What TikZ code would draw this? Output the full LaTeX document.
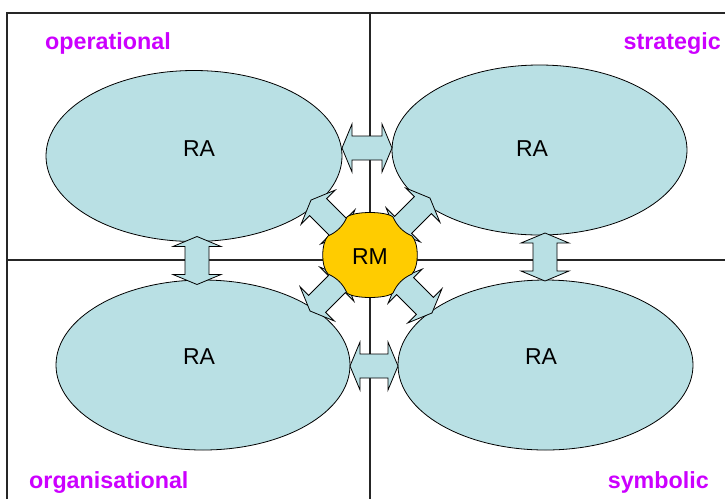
\documentclass[tikz,border=0pt]{standalone}
\usepackage{fontspec}
\setmainfont{Liberation Sans}
\usetikzlibrary{shapes.geometric}
\definecolor{rafill}{RGB}{185,224,228}
\definecolor{rmfill}{RGB}{255,204,0}
\definecolor{lblcol}{RGB}{204,0,255}
\tikzset{
  framestyle/.style={line width=1.3pt, draw=black!85},
  raell/.style={ellipse, draw=black, line width=0.8pt, fill=rafill, inner sep=0pt},
  blockarrow/.style={draw=black, line width=0.8pt, fill=rafill, line join=miter},
  lbltext/.style={text=lblcol, font=\fontsize{23.3}{27}\selectfont\bfseries, inner sep=0pt},
  ratext/.style={font=\fontsize{23}{27}\selectfont, inner sep=0pt},
  dbl/.pic={\path[blockarrow] (-#1,0) -- (-#1+10,-24) -- (-#1+10,-12) -- (#1-10,-12) -- (#1-10,-24) -- (#1,0) -- (#1-10,24) -- (#1-10,12) -- (-#1+10,12) -- (-#1+10,24) -- cycle;}
}
\begin{document}
\begin{tikzpicture}[x=1pt,y=-1pt]
\useasboundingbox (0,0) rectangle (725,499);
% frame
\draw[framestyle] (7,499) -- (7,13) -- (725,13);
\draw[framestyle] (370,13) -- (370,499);
\draw[framestyle] (7,260) -- (725,260);
% labels
\node[lbltext, anchor=base west] (op) at (45,49) {operational};
\node[lbltext, anchor=base east] (st) at (721,49) {strategic};
\node[lbltext, anchor=base west] (org) at (29,488) {organisational};
\node[lbltext, anchor=base east] (sym) at (709,488) {symbolic};
% ellipses
\node[raell, minimum width=296pt, minimum height=171pt] (tl) at (194,156) {};
\node[raell, minimum width=295pt, minimum height=170pt] (tr) at (539.5,150) {};
\node[raell, minimum width=294pt, minimum height=170pt] (bl) at (203,365) {};
\node[raell, minimum width=295pt, minimum height=170pt] (br) at (545.5,365) {};
\node[ratext] (tlt) at (199,149) {RA};
\node[ratext] (trt) at (532,149) {RA};
\node[ratext] (blt) at (199,357) {RA};
\node[ratext] (brt) at (541,357) {RA};
% block arrows
\pic at (367,148) {dbl=25};
\pic at (374,366) {dbl=24};
\pic[rotate=90] at (197,260.5) {dbl=24};
\pic[rotate=90] at (545,257) {dbl=24};
\pic[rotate=-45] at (328,217) {dbl=24};
\pic[rotate=45] at (413,215) {dbl=24};
\pic[rotate=45] at (327,294) {dbl=24};
\pic[rotate=-45] at (415,296) {dbl=24};
% RM blob
\draw[fill=rmfill, draw=black, line width=0.8pt]
  (347,217) .. controls (354,211) and (386,211) .. (393,217)
  .. controls (397,226) and (403,232) .. (412,236)
  .. controls (419,243) and (419,267) .. (412,274)
  .. controls (403,278) and (397,284) .. (393,293)
  .. controls (386,299) and (354,299) .. (347,293)
  .. controls (343,284) and (337,278) .. (328,274)
  .. controls (321,267) and (321,243) .. (328,236)
  .. controls (337,232) and (343,226) .. (347,217) -- cycle;
\node[ratext] (rm) at (370,257) {RM};
\end{tikzpicture}
\end{document}
